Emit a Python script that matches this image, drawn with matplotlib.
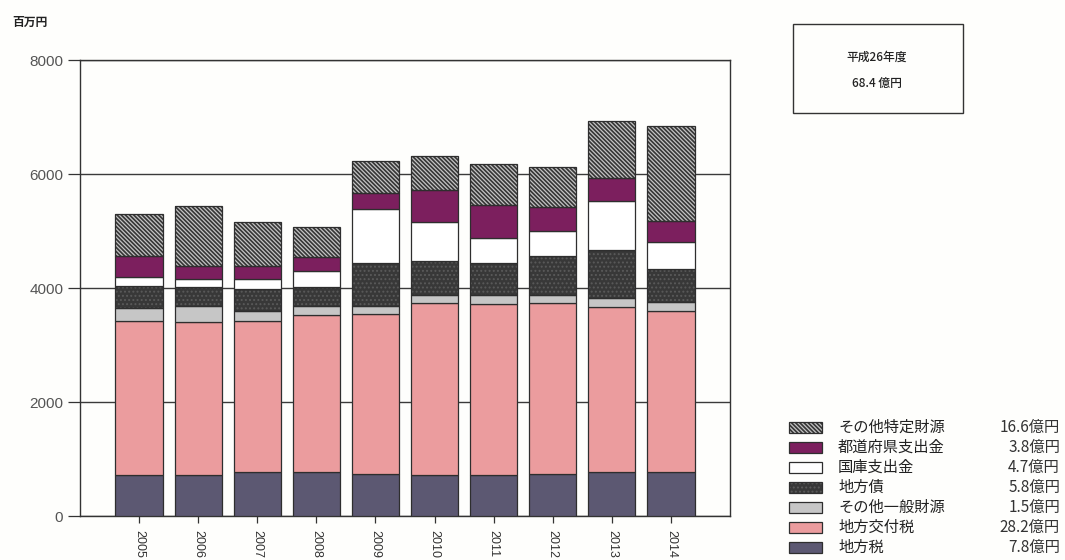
import numpy as np
import matplotlib.pyplot as plt
from matplotlib.patches import Rectangle

plt.rcParams['font.family'] = ['Noto Sans CJK JP', 'DejaVu Sans']
plt.rcParams['hatch.linewidth'] = 0.9

years = ['2005', '2006', '2007', '2008', '2009', '2010', '2011', '2012', '2013', '2014']

# 百万円, stacked bottom to top
chihouzei = [715, 715, 765, 765, 745, 715, 715, 745, 770, 780]
koufuzei = [2710, 2695, 2655, 2755, 2795, 3015, 3000, 2985, 2905, 2820]
sonota_ippan = [230, 270, 180, 160, 150, 145, 160, 145, 145, 150]
chihousai = [380, 330, 380, 340, 745, 600, 570, 690, 845, 580]
kokko = [150, 150, 180, 280, 945, 690, 440, 435, 865, 470]
todoufuken = [375, 230, 230, 240, 295, 555, 570, 415, 395, 380]
sonota_tokutei = [740, 1050, 760, 525, 555, 595, 715, 700, 1005, 1660]

labels = ['地方税', '地方交付税', 'その他一般財源', '地方債', '国庫支出金', '都道府県支出金', 'その他特定財源']
latest = ['7.8', '28.2', '1.5', '5.8', '4.7', '3.8', '16.6']
total_label = '68.4'

series = [chihouzei, koufuzei, sonota_ippan, chihousai, kokko, todoufuken, sonota_tokutei]
# (face, hatch, hatch colour)
styles = [
    ('#5c5872', None, None),
    ('#eb9c9e', None, None),
    ('#c6c6c6', None, None),
    ('#383838', '....', '#5a5a5a'),
    ('#ffffff', None, None),
    ('#7c1f5e', None, None),
    ('#363636', '\\' * 8, '#c4c4c4'),
]
edge = '#2e2e2e'
bg = '#fefefc'

fig = plt.figure(figsize=(10.65, 5.6), dpi=100, facecolor=bg)
ax = fig.add_axes([80 / 1065, 1 - 516 / 560, 650 / 1065, 456 / 560])
ax.set_facecolor(bg)

x = np.arange(len(years))
bottom = np.zeros(len(years))
for vals, (fc, hatch, hc) in zip(series, styles):
    vals = np.array(vals, dtype=float)
    if hatch:
        ax.bar(x, vals, 0.8, bottom=bottom, color=fc, hatch=hatch,
               edgecolor=hc, linewidth=0, zorder=2)
        ax.bar(x, vals, 0.8, bottom=bottom, facecolor='none',
               edgecolor=edge, linewidth=0.9, zorder=3)
    else:
        ax.bar(x, vals, 0.8, bottom=bottom, color=fc,
               edgecolor=edge, linewidth=0.9, zorder=3)
    bottom += vals

ax.set_xlim(-1, len(years))
ax.set_ylim(0, 8000)
ax.set_yticks([0, 2000, 4000, 6000, 8000])
ax.set_xticks(x)
ax.set_xticklabels(years, rotation=-90, fontsize=9, color='#444',
                   family=['Liberation Sans', 'DejaVu Sans'])
for t in ax.get_yticklabels():
    t.set_family(['Liberation Sans', 'DejaVu Sans'])
ax.tick_params(axis='y', length=9, width=0.9, colors='#333', labelsize=11,
               labelcolor='#555', pad=3)
ax.tick_params(axis='x', length=5, width=0.9, colors='#333', pad=5)
ax.yaxis.grid(True, color='#3a3a3a', linewidth=1.0, zorder=0)
ax.set_axisbelow(True)
for s in ax.spines.values():
    s.set_color('#333')
    s.set_linewidth(1.0)

fig.text(12 / 1065, 1 - 22 / 560, '百万円', fontsize=8.5, fontweight='bold',
         color='#222', va='center', ha='left')

# summary box
fig.add_artist(Rectangle((793 / 1065, 1 - 113 / 560), 170 / 1065, 89 / 560,
                         transform=fig.transFigure, facecolor='none',
                         edgecolor='#333', linewidth=1.0))
fig.text(877 / 1065, 1 - 57 / 560, '平成26年度', fontsize=8.5, ha='center',
         va='center', color='#222', fontweight='medium')
fig.text(877 / 1065, 1 - 83 / 560, total_label + ' 億円', fontsize=8.5,
         ha='center', va='center', color='#222', fontweight='medium')

# legend with latest-year amounts
for i in range(len(labels)):
    k = len(labels) - 1 - i
    fc, hatch, hc = styles[k]
    yc = 427 + i * 20
    y0 = 1 - (yc + 5.5) / 560
    if hatch:
        fig.add_artist(Rectangle((789 / 1065, y0), 33 / 1065, 11 / 560,
                                 transform=fig.transFigure, facecolor=fc,
                                 hatch=hatch, edgecolor=hc, linewidth=0))
    fig.add_artist(Rectangle((789 / 1065, y0), 33 / 1065, 11 / 560,
                             transform=fig.transFigure,
                             facecolor='none' if hatch else fc,
                             edgecolor=edge, linewidth=0.9))
    fig.text(838 / 1065, 1 - yc / 560, labels[k], fontsize=11,
             va='center', ha='left', color='#222')
    fig.text(1060 / 1065, 1 - yc / 560, latest[k] + '億円', fontsize=11,
             va='center', ha='right', color='#333')

fig.savefig('out.png', dpi=100, facecolor=bg)
